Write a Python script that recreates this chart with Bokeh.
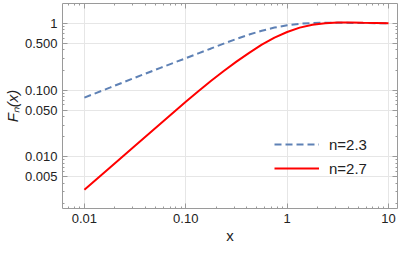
from bokeh.plotting import figure
from bokeh.models import (Range1d, FixedTicker, LogAxis, Legend, LegendItem)
from bokeh.embed import file_html
from bokeh.resources import INLINE

# ---- data ----
x_vals = [0.01, 0.0178, 0.0316, 0.0562, 0.1, 0.133, 0.178, 0.237, 0.316, 0.422,
          0.562, 0.75, 1.0, 1.33, 1.78, 2.37, 3.16, 4.22, 5.62, 10.0]
f_n23 = [0.0774, 0.109, 0.154, 0.216, 0.301, 0.356, 0.422, 0.499, 0.586, 0.681,
         0.778, 0.867, 0.940, 0.989, 1.016, 1.026, 1.026, 1.019, 1.014, 1.005]
f_n27 = [0.00321, 0.00687, 0.01466, 0.0313, 0.0670, 0.0966, 0.138, 0.194, 0.268, 0.363,
         0.480, 0.614, 0.745, 0.865, 0.953, 1.009, 1.033, 1.033, 1.023, 1.007]
series_labels = ["n=2.3", "n=2.7"]

x_ticks = [0.01, 0.1, 1, 10]
x_tick_labels = ["0.01", "0.10", "1", "10"]
y_ticks = [0.005, 0.01, 0.05, 0.1, 0.5, 1]
y_tick_labels = ["0.005", "0.010", "0.050", "0.100", "0.500", "1"]

def minor_log(lo_exp, hi_exp):
    out = []
    for e in range(lo_exp, hi_exp + 1):
        for m in range(2, 10):
            out.append(m * 10.0 ** e)
    return out

x_minor = minor_log(-3, 1)
y_minor = minor_log(-3, 0)

FONT = "Liberation Sans"
FRAME = "#9a9a9a"
TXT = "#222222"

p = figure(width=399, height=246, output_backend="svg", toolbar_location=None,
           x_axis_type="log", y_axis_type="log",
           x_range=Range1d(10 ** -2.216, 10 ** 1.0885),
           y_range=Range1d(10 ** -2.774, 10 ** 0.299),
           min_border_left=61, min_border_right=2, min_border_top=3, min_border_bottom=38)
p.outline_line_color = None
p.background_fill_color = "white"

def style_axis(ax, ticks, labels, minor, show_labels=True):
    ax.ticker = FixedTicker(ticks=ticks, minor_ticks=minor)
    ax.axis_line_color = FRAME
    ax.major_tick_line_color = FRAME
    ax.minor_tick_line_color = FRAME
    ax.major_tick_in = 5
    ax.major_tick_out = 0
    ax.minor_tick_in = 2
    ax.minor_tick_out = 0
    if show_labels:
        ax.major_label_overrides = {t: l for t, l in zip(ticks, labels)}
        ax.major_label_text_font = FONT
        ax.major_label_text_font_size = "13px"
        ax.major_label_text_color = TXT
    else:
        ax.major_label_overrides = {t: "" for t in ticks}
        ax.major_label_text_font_size = "0px"
        ax.major_label_standoff = 0

style_axis(p.xaxis[0], x_ticks, x_tick_labels, x_minor)
style_axis(p.yaxis[0], y_ticks, y_tick_labels, y_minor)
p.xaxis[0].major_label_standoff = 5
p.yaxis[0].major_label_standoff = 5

p.xaxis[0].axis_label = "x"
p.xaxis[0].axis_label_standoff = 1
p.xaxis[0].axis_label_text_font_style = "normal"
p.yaxis[0].axis_label = "Fₙ(x)"
p.yaxis[0].axis_label_standoff = 1
p.yaxis[0].axis_label_text_font_style = "italic"
for ax in (p.xaxis[0], p.yaxis[0]):
    ax.axis_label_text_font = FONT
    ax.axis_label_text_font_size = "15px"
    ax.axis_label_text_color = TXT

top = LogAxis()
style_axis(top, x_ticks, x_tick_labels, x_minor, show_labels=False)
p.add_layout(top, "above")
right = LogAxis()
style_axis(right, y_ticks, y_tick_labels, y_minor, show_labels=False)
p.add_layout(right, "right")

p.xgrid.ticker = FixedTicker(ticks=x_ticks)
p.ygrid.ticker = FixedTicker(ticks=y_ticks)
p.xgrid.grid_line_color = "#e6e6e6"
p.ygrid.grid_line_color = "#e6e6e6"

r1 = p.line(x_vals, f_n23, line_color="#5E81B5", line_width=2, line_dash="7 4")
r2 = p.line(x_vals, f_n27, line_color="#FF0000", line_width=2)

legend = Legend(items=[LegendItem(label=series_labels[0], renderers=[r1]),
                       LegendItem(label=series_labels[1], renderers=[r2])],
                location=(212, 30), glyph_width=45, glyph_height=20, label_height=20,
                label_standoff=10, spacing=4, padding=0, margin=0,
                border_line_color=None, background_fill_alpha=0,
                label_text_font=FONT, label_text_font_size="15px", label_text_color=TXT)
p.add_layout(legend, "center")

open("out.html", "w").write(file_html(p, INLINE))
